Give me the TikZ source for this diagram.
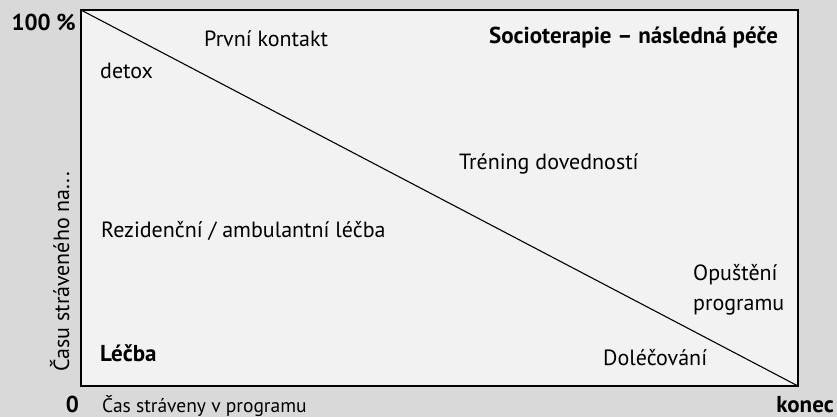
\documentclass[tikz,border=0pt]{standalone}
\usepackage{fontspec}
\setmainfont{PT Sans}
\tikzset{
  txt/.style={anchor=base west, inner sep=0pt, font=\fontsize{22}{30}\selectfont},
  txtb/.style={txt, font=\fontsize{23}{30}\selectfont\bfseries},
  axis/.style={txt, font=\fontsize{#1}{24}\selectfont},
}
\begin{document}
\begin{tikzpicture}[x=1pt,y=-1pt]
        \fill[gray!30] (0,0) rectangle (837,417);
        \useasboundingbox (0,0) rectangle (837,417);

        \coordinate (TL) at (81,10);
        \coordinate (TR) at (798,10);
        \coordinate (BR) at (798,386);
        \coordinate (BL) at (81,386);

        \fill[gray!10] (TL) rectangle (BR);
        \draw[line width=1.2pt] (TL) -- (TR) -- (BR) -- (BL) -- cycle;
        \draw[line width=1.1pt] (TL) -- (BR);

        \node[txtb, anchor=base east] (top) at (76,31) {100 \%};
        \node[txtb, anchor=base east] (zero) at (79,412) {0};
        \node[txtb, anchor=base east] (konec) at (834,412) {konec};

        \node[txt] (detox) at (100,79) {detox};
        \node[txt] (kontakt) at (204,47) {První kontakt};
        \node[txtb] (socio) at (489,44) {Socioterapie – následná péče};
        \node[txt] (trening) at (459,169) {Tréning dovedností};
        \node[txt] (rezid) at (101,237) {Rezidenční / ambulantní léčba};
        \node[txt, align=left] (opust) at (693,310) {Opuštění\\programu};
        \node[txt] (dolec) at (603,365) {Doléčování};
        \node[txtb] (lecba) at (100,361) {Léčba};

        \node[axis=19.5] (xaxis) at (102,412) {Čas stráveny v programu};
        \node[axis=22, rotate=90] (yaxis) at (69,372) {Času stráveného na...};
    \end{tikzpicture}
\end{document}
